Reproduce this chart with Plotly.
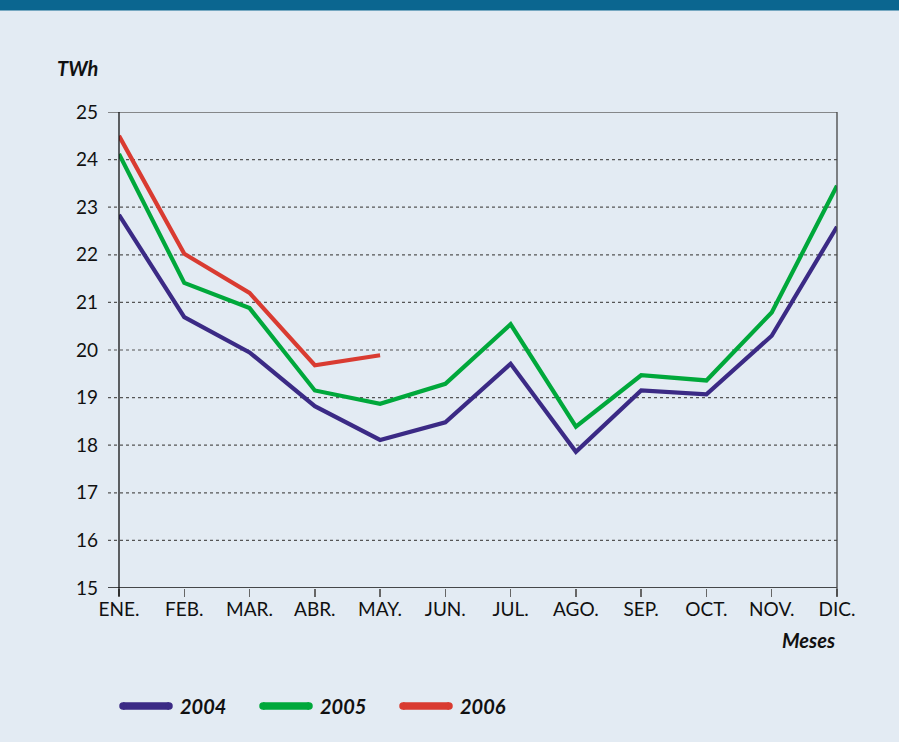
import plotly.graph_objects as go

months = ["ENE.", "FEB.", "MAR.", "ABR.", "MAY.", "JUN.", "JUL.", "AGO.", "SEP.", "OCT.", "NOV.", "DIC."]
y2004 = [22.84, 20.69, 19.95, 18.82, 18.11, 18.48, 19.71, 17.86, 19.15, 19.07, 20.30, 22.59]
y2005 = [24.12, 21.41, 20.88, 19.15, 18.87, 19.29, 20.54, 18.39, 19.47, 19.36, 20.79, 23.45]
y2006 = [24.50, 22.02, 21.20, 19.68, 19.89]
series_names = ["2004", "2005", "2006"]
series_values = [y2004, y2005, y2006]
colors = ["#3b2a85", "#00a83b", "#d93b31"]
y_ticks = [15, 16, 17, 18, 19, 20, 21, 22, 23, 24, 25]

W, H = 899, 742
L, R, T, B = 119, 837, 112, 588
BG = "#e3ebf3"
FONT = "Lato, 'Open Sans', sans-serif"


def px2x(px):
    return (px - L) / (R - L)


def py2y(py):
    return (B - py) / (B - T)


fig = go.Figure()
for name, vals, col in zip(series_names, series_values, colors):
    fig.add_trace(go.Scatter(
        x=months[:len(vals)], y=vals, mode="lines", name=name,
        line=dict(color=col, width=4.2), showlegend=False, hoverinfo="skip",
    ))

shapes = []
# top bar
shapes.append(dict(type="rect", xref="paper", yref="paper",
                   x0=px2x(-2), x1=px2x(W + 2), y0=py2y(10.5), y1=py2y(-2),
                   fillcolor="#0b6690", line=dict(width=0), layer="below"))
# horizontal grid lines
for v in y_ticks:
    if v == y_ticks[0]:
        ln = dict(color="#111111", width=1.3)
    elif v == y_ticks[-1]:
        ln = dict(color="#666666", width=1.6)
    else:
        ln = dict(color="#555555", width=1.2, dash="dot")
    shapes.append(dict(type="line", xref="x domain", yref="y",
                       x0=px2x(108), x1=1, y0=v, y1=v, line=ln, layer="below"))
# left axis
shapes.append(dict(type="line", xref="x domain", yref="paper", x0=0, x1=0,
                   y0=py2y(596), y1=1, line=dict(color="#111111", width=1.3)))
# right axis
shapes.append(dict(type="line", xref="x domain", yref="paper", x0=1, x1=1,
                   y0=py2y(596), y1=1, line=dict(color="#444444", width=1.3)))

annotations = [
    dict(text="<b><i>TWh</i></b>", x=px2x(55), y=py2y(68), xref="paper", yref="paper",
         xanchor="left", yanchor="middle", showarrow=False,
         font=dict(family=FONT, size=20, color="#111111")),
    dict(text="<b><i>Meses</i></b>", x=1, y=py2y(640), xref="paper", yref="paper",
         xanchor="right", yanchor="middle", showarrow=False,
         font=dict(family=FONT, size=20, color="#111111")),
]

# manual legend
leg_y = py2y(706)
for i, (name, col) in enumerate(zip(series_names, colors)):
    x0 = 120 + i * 140
    shapes.append(dict(type="line", xref="paper", yref="paper",
                       x0=px2x(x0 + 3), x1=px2x(x0 + 49), y0=leg_y, y1=leg_y,
                       line=dict(color=col, width=7.5)))
    for cx in (x0 + 3, x0 + 49):
        shapes.append(dict(type="circle", xref="paper", yref="paper",
                           x0=px2x(cx - 3.75), x1=px2x(cx + 3.75),
                           y0=leg_y - 3.75 / (B - T), y1=leg_y + 3.75 / (B - T),
                           fillcolor=col, line=dict(width=0)))
    annotations.append(dict(text=f"<b><i>{name}</i></b>", x=px2x(x0 + 58), y=leg_y,
                            xref="paper", yref="paper", xanchor="left", yanchor="middle",
                            showarrow=False, font=dict(family=FONT, size=20, color="#111111")))

fig.update_layout(
    width=W, height=H,
    margin=dict(l=L, r=W - R, t=T, b=H - B),
    paper_bgcolor=BG, plot_bgcolor=BG,
    font=dict(family=FONT, size=19, color="#111111"),
    shapes=shapes, annotations=annotations,
    showlegend=False, hovermode=False,
)
fig.update_xaxes(
    type="category", categoryorder="array", categoryarray=months,
    range=[0, len(months) - 1], showgrid=False, zeroline=False,
    showline=False, ticks="outside", ticklen=8, tickcolor="#666666", tickwidth=1.5,
    ticklabelstandoff=-4,
    tickfont=dict(family=FONT, size=19, color="#111111"),
)
fig.update_yaxes(
    range=[15, 25], tickvals=y_ticks, showgrid=False, zeroline=False, showline=False,
    ticks="", ticklabelstandoff=20,
    tickfont=dict(family=FONT, size=19, color="#111111"),
)

fig.write_html(
    "out.html",
    config={"displayModeBar": False, "staticPlot": True},
    post_script="document.body.style.margin='0';document.body.style.overflow='hidden';",
)
